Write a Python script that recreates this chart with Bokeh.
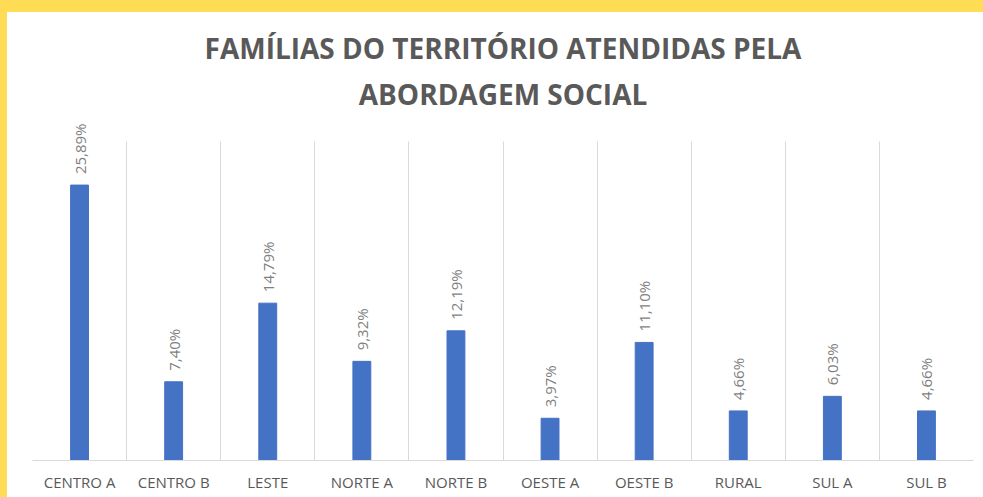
import math
from bokeh.plotting import figure
from bokeh.models import ColumnDataSource, LabelSet, FixedTicker, Title, Spacer
from bokeh.layouts import column, row
from bokeh.core.properties import value
from bokeh.embed import file_html
from bokeh.resources import INLINE

categories = ["CENTRO A", "CENTRO B", "LESTE", "NORTE A", "NORTE B",
              "OESTE A", "OESTE B", "RURAL", "SUL A", "SUL B"]
values = [25.89, 7.40, 14.79, 9.32, 12.19, 3.97, 11.10, 4.66, 6.03, 4.66]
labels = [f"{v:.2f}".replace(".", ",") + "%" for v in values]
title_lines = ["FAMÍLIAS DO TERRITÓRIO ATENDIDAS PELA", "ABORDAGEM SOCIAL"]

source = ColumnDataSource(dict(cat=categories, val=values, lab=labels))

p = figure(x_range=categories, y_range=(0, 32.15), width=976, height=485,
           output_backend="svg", toolbar_location=None, y_axis_location=None,
           min_border_left=25, min_border_right=10, min_border_top=106,
           min_border_bottom=37)
p.background_fill_color = "white"
p.border_fill_color = "white"
p.outline_line_color = None
p.styles = {"background-color": "white"}

p.vbar(x="cat", top="val", width=0.19, source=source,
       fill_color="#4472C4", line_color="#4472C4")

p.add_layout(LabelSet(x="cat", y="val", text="lab", source=source,
                      angle=math.pi / 2, y_offset=11, text_align="left",
                      text_baseline="middle", text_font=value("Open Sans"),
                      text_font_size=value("15px"), text_color="#7F7F7F"))

p.ygrid.visible = False
p.xgrid.ticker = FixedTicker(ticks=list(range(len(categories) + 1)))
p.xgrid.grid_line_color = "#D9D9D9"
p.xgrid.grid_line_width = 1
p.xgrid.cross_bounds = (0, 30)

ax = p.xaxis[0]
ax.axis_line_color = "#D9D9D9"
ax.major_tick_line_color = None
ax.minor_tick_line_color = None
ax.major_tick_out = 0
ax.major_label_standoff = 11
ax.major_label_text_font = "Open Sans"
ax.major_label_text_font_size = "15px"
ax.major_label_text_color = "#595959"

for i, line in enumerate(reversed(title_lines)):
    p.add_layout(Title(text=line, align="center", text_font="Open Sans",
                       text_font_style="bold", text_font_size="28px",
                       text_color="#595959", standoff=(12 if i == 0 else 0)),
                 "above")

layout = column(Spacer(width=983, height=12),
                row(Spacer(width=7, height=485), p, spacing=0),
                spacing=0)

html = file_html(layout, INLINE)
html = html.replace("</head>",
                    "<style>html, body { background-color: #FFDC55; }</style></head>", 1)
open("out.html", "w").write(html)
